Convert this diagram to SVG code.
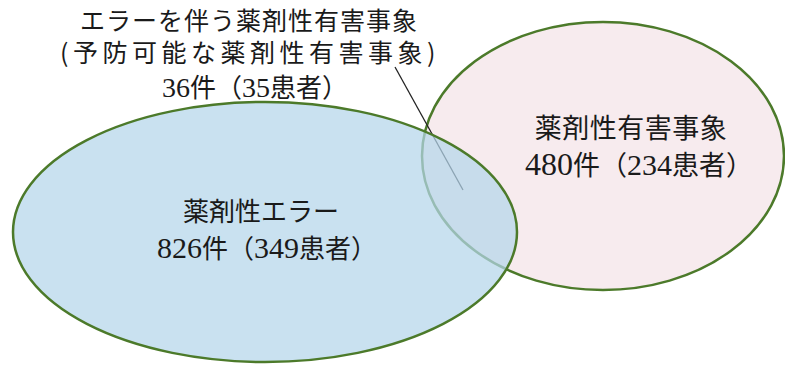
<svg xmlns="http://www.w3.org/2000/svg" width="785" height="367" viewBox="0 0 785 367">
<style>
.jp{font-family:"Noto Sans CJK JP","Noto Sans",sans-serif;fill:#1a1a1a}
.num{font-family:"Liberation Serif","Noto Sans CJK JP",serif;fill:#1a1a1a}
.d{font-family:"Liberation Serif",serif}
.k{font-family:"Noto Sans CJK JP",sans-serif}
.ring{stroke:#4c7a2a;stroke-width:2.5}
</style>
<rect width="785" height="367" fill="#ffffff"/>
<g id="adverse-events">
<ellipse class="ring" cx="603" cy="156" rx="181" ry="134" fill="#f7ebee"/>
<text class="jp" x="631" y="138" font-size="27" letter-spacing="0.5" text-anchor="middle">薬剤性有害事象</text>
<text class="num" x="525" y="175"><tspan class="d" font-size="32">480</tspan><tspan class="k" font-size="27">件（</tspan><tspan class="d" font-size="30">234</tspan><tspan class="k" font-size="27">患者）</tspan></text>
</g>
<g id="connectors">
<line x1="395" y1="67" x2="463" y2="190" stroke="#222" stroke-width="1.3"/>
</g>
<g id="medication-errors">
<ellipse cx="265" cy="232" rx="252" ry="130" fill="#b4d5ea" fill-opacity="0.72"/>
<ellipse class="ring" cx="265" cy="232" rx="252" ry="130" fill="none"/>
<text class="jp" x="261" y="221" font-size="26" text-anchor="middle">薬剤性エラー</text>
<text class="num" x="157" y="258"><tspan class="d" font-size="30">826</tspan><tspan class="k" font-size="26">件（</tspan><tspan class="d" font-size="30">349</tspan><tspan class="k" font-size="26">患者）</tspan></text>
</g>
<g id="preventable-label">
<text class="jp" x="249" y="30" font-size="25" letter-spacing="1" text-anchor="middle">エラーを伴う薬剤性有害事象</text>
<text class="jp" x="250" y="62" font-size="25" text-anchor="middle" letter-spacing="4.5">(予防可能な薬剤性有害事象)</text>
<text class="num" x="162" y="97"><tspan class="d" font-size="28">36</tspan><tspan class="k" font-size="26">件（</tspan><tspan class="d" font-size="28">35</tspan><tspan class="k" font-size="26">患者）</tspan></text>
</g>
</svg>
